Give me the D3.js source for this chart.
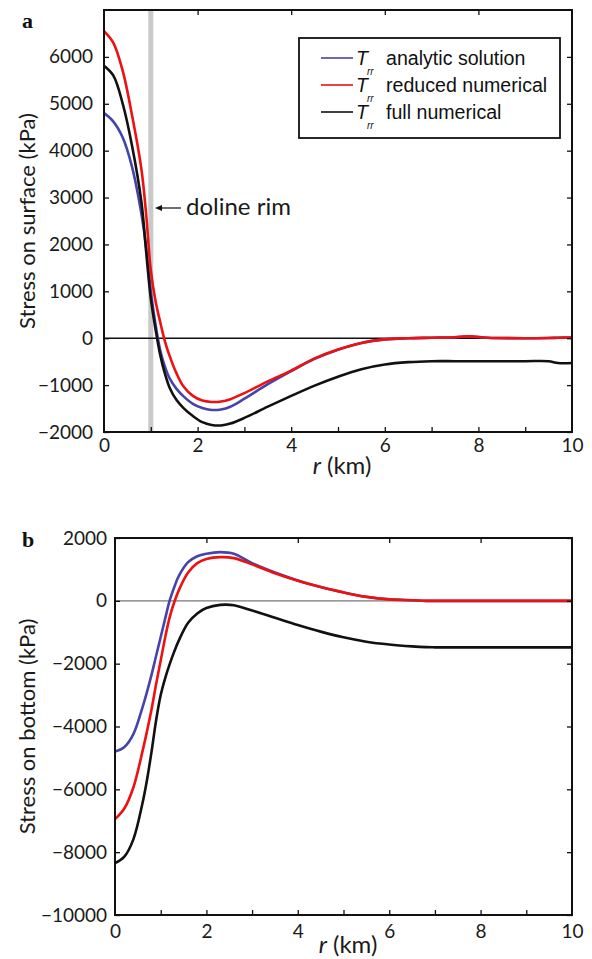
<!DOCTYPE html>
<html><head><meta charset="utf-8">
<script src="https://cdn.jsdelivr.net/npm/d3@7"></script>
<style>body{margin:0;background:#fff} svg{display:block}</style>
</head><body><svg id="c" width="592" height="959"></svg>
<script>
// ---------- data (r in km, stress in kPa) ----------
const rSurface = [0, 0.2, 0.4, 0.6, 0.8, 0.9, 1.0, 1.1, 1.2, 1.3, 1.4, 1.55, 1.7, 1.9, 2.1, 2.3, 2.5, 2.7, 3.0, 3.5, 4.0, 4.5, 5.0, 5.5, 6.0, 6.5, 7.0, 7.5, 7.8, 8.2, 9.0, 9.5, 9.7, 10.0];
const surfaceAnalytic = [4800, 4620, 4280, 3650, 2650, 1950, 1000, 300, -250, -600, -850, -1080, -1240, -1400, -1490, -1530, -1520, -1460, -1290, -980, -700, -440, -245, -100, -25, 0, 10, 20, 40, 10, 0, 5, 10, 15];
const surfaceReduced  = [6550, 6300, 5700, 4750, 3600, 2650, 1450, 800, 350, -60, -370, -750, -1030, -1230, -1330, -1360, -1350, -1300, -1170, -920, -690, -430, -240, -100, -25, 0, 10, 20, 40, 10, 0, 5, 10, 15];
const surfaceFull     = [5810, 5600, 5000, 4100, 2900, 1850, 850, 200, -350, -750, -1050, -1320, -1490, -1660, -1790, -1850, -1860, -1820, -1700, -1460, -1230, -1010, -820, -660, -560, -510, -490, -490, -490, -490, -490, -490, -530, -530];

const rBottom = [0, 0.2, 0.4, 0.6, 0.7, 0.8, 0.9, 1.0, 1.1, 1.2, 1.3, 1.4, 1.6, 1.8, 2.0, 2.3, 2.6, 3.0, 3.5, 4.0, 4.5, 5.0, 5.5, 6.0, 6.5, 6.8, 7.0, 8.0, 9.0, 10.0];
const bottomAnalytic = [-4800, -4660, -4250, -3400, -2900, -2350, -1750, -1150, -550, 30, 450, 800, 1230, 1420, 1500, 1550, 1500, 1200, 900, 650, 440, 270, 130, 50, 20, 0, 0, 0, 0, 0];
const bottomReduced  = [-6950, -6620, -5950, -4800, -4150, -3450, -2650, -1900, -1150, -500, -30, 350, 900, 1200, 1330, 1390, 1360, 1160, 880, 640, 440, 265, 125, 45, 20, 0, 0, 0, 0, 0];
const bottomFull     = [-8350, -8150, -7600, -6450, -5700, -4800, -3800, -3000, -2450, -2000, -1600, -1250, -700, -400, -230, -130, -140, -310, -540, -770, -980, -1160, -1300, -1390, -1450, -1475, -1480, -1480, -1480, -1480];

const xTicksLabeled = [0, 2, 4, 6, 8, 10];
const xTicksAll = [1, 2, 3, 4, 5, 6, 7, 8, 9];
const yTicksSurface = [-2000, -1000, 0, 1000, 2000, 3000, 4000, 5000, 6000];
const yTicksBottom = [-10000, -8000, -6000, -4000, -2000, 0, 2000];

const seriesNames = ["analytic solution", "reduced numerical", "full numerical"];
const seriesColors = ["#4444aa", "#ee1111", "#111111"];

// ---------- drawing ----------
const svg = d3.select("#c");
const tickFont = "Lato, 'Open Sans', sans-serif";

function panel(o) {
  const x = d3.scaleLinear().domain([0, 10]).range([o.x0, o.x1]);
  const y = d3.scaleLinear().domain(o.yDomain).range([o.y1, o.y0]);
  const g = svg.append("g");
  const clipId = "clip" + o.id;
  svg.append("clipPath").attr("id", clipId).append("rect")
    .attr("x", o.x0).attr("y", o.y0).attr("width", o.x1 - o.x0).attr("height", o.y1 - o.y0);

  if (o.rim) {
    g.append("rect").attr("x", x(1) - 2.5).attr("y", o.y0).attr("width", 5).attr("height", o.y1 - o.y0)
      .attr("fill", "#c9c9c9");
  }
  g.append("line").attr("x1", o.x0).attr("x2", o.x1).attr("y1", y(0)).attr("y2", y(0))
    .attr("stroke", o.zeroColor).attr("stroke-width", o.zeroWidth);

  const line = d3.line().x(d => x(d[0])).y(d => y(d[1])).curve(d3.curveCatmullRom.alpha(0.5));
  const order = [0, 2, 1];
  order.forEach(i => {
    const pts = o.r.map((rv, k) => [rv, o.series[i][k]]);
    g.append("path").attr("d", line(pts)).attr("fill", "none")
      .attr("stroke", seriesColors[i]).attr("stroke-width", 2.6)
      .attr("stroke-linejoin", "round").attr("clip-path", `url(#${clipId})`);
  });

  // ticks (inward)
  const styleAxis = sel => {
    sel.select(".domain").remove();
    sel.selectAll("line").attr("stroke", "#111").attr("stroke-width", 1.3);
    sel.selectAll("text").attr("font-family", tickFont).attr("font-size", 19).attr("fill", "#1a1a1a");
  };
  g.append("g").attr("transform", `translate(0,${o.y1})`)
    .call(d3.axisBottom(x).tickValues(xTicksAll).tickSizeInner(-5).tickSizeOuter(0).tickFormat(""))
    .call(styleAxis);
  g.append("g").attr("transform", `translate(0,${o.y1})`)
    .call(d3.axisBottom(x).tickValues(xTicksLabeled).tickSizeInner(0).tickSizeOuter(0).tickPadding(o.xPad))
    .call(styleAxis);
  g.append("g").attr("transform", `translate(0,${o.y0})`)
    .call(d3.axisTop(x).tickValues([2, 4, 6, 8]).tickSizeInner(-5).tickSizeOuter(0).tickFormat(""))
    .call(styleAxis);
  g.append("g").attr("transform", `translate(${o.x0},0)`)
    .call(d3.axisLeft(y).tickValues(o.yTicks).tickSizeInner(-5).tickSizeOuter(0).tickPadding(o.yPad).tickFormat(d3.format("d")))
    .call(styleAxis);
  g.append("g").attr("transform", `translate(${o.x1},0)`)
    .call(d3.axisRight(y).tickValues(o.yTicks).tickSizeInner(-5).tickSizeOuter(0).tickFormat(""))
    .call(styleAxis);

  // frame
  g.append("rect").attr("x", o.x0).attr("y", o.y0).attr("width", o.x1 - o.x0).attr("height", o.y1 - o.y0)
    .attr("fill", "none").attr("stroke", "#111").attr("stroke-width", 2);

  // axis titles
  g.append("text").attr("transform", `translate(${o.yLabelX},${(o.y0 + o.y1) / 2}) rotate(-90)`)
    .attr("text-anchor", "middle").attr("font-family", tickFont).attr("font-size", 22).attr("fill", "#1a1a1a")
    .text(o.yLabel);
  const xl = g.append("text").attr("x", o.xLabelX).attr("y", o.xLabelY).attr("text-anchor", "middle")
    .attr("font-family", tickFont).attr("font-size", 24).attr("fill", "#1a1a1a");
  xl.append("tspan").attr("font-style", "italic").text("r");
  xl.append("tspan").text(" (km)");

  // panel letter
  g.append("text").attr("x", 22).attr("y", o.letterY).attr("font-family", "'Liberation Serif', serif")
    .attr("font-weight", "bold").attr("font-size", 22).attr("fill", "#111").text(o.letter);
  return { x, y, g };
}

const a = panel({
  id: "a", x0: 104, x1: 572, y0: 10, y1: 432, yDomain: [-2000, 7000],
  r: rSurface, series: [surfaceAnalytic, surfaceReduced, surfaceFull],
  yTicks: yTicksSurface, rim: true, zeroColor: "#111", zeroWidth: 1.5,
  xPad: 7, yPad: 11, yLabel: "Stress on surface (kPa)", yLabelX: 35,
  xLabelX: 342, xLabelY: 474, letter: "a", letterY: 28
});

const b = panel({
  id: "b", x0: 115, x1: 572, y0: 538, y1: 915, yDomain: [-10000, 2000],
  r: rBottom, series: [bottomAnalytic, bottomReduced, bottomFull],
  yTicks: yTicksBottom, rim: false, zeroColor: "#777", zeroWidth: 1.2,
  xPad: 10, yPad: 8, yLabel: "Stress on bottom (kPa)", yLabelX: 35,
  xLabelX: 348, xLabelY: 953, letter: "b", letterY: 547
});

// doline rim annotation
const rimY = 208;
a.g.append("line").attr("x1", 181).attr("x2", 158).attr("y1", rimY).attr("y2", rimY)
  .attr("stroke", "#111").attr("stroke-width", 1.2);
a.g.append("path").attr("d", `M155,${rimY} l7,-3 l0,6 z`).attr("fill", "#111");
a.g.append("text").attr("x", 186).attr("y", rimY + 7).attr("font-family", tickFont).attr("font-size", 24)
  .attr("fill", "#1a1a1a").text("doline rim");

// legend
const lg = a.g.append("g");
lg.append("rect").attr("x", 299).attr("y", 38).attr("width", 261).attr("height", 100)
  .attr("fill", "#fff").attr("stroke", "#111").attr("stroke-width", 1.8);
seriesNames.forEach((name, i) => {
  const ly = 58 + i * 27;
  lg.append("line").attr("x1", 321).attr("x2", 353).attr("y1", ly).attr("y2", ly)
    .attr("stroke", seriesColors[i]).attr("stroke-width", 1.6);
  lg.append("text").attr("x", 356).attr("y", ly + 7).attr("font-family", "'Liberation Sans', Arial, sans-serif")
    .attr("font-style", "italic").attr("font-size", 19.6).attr("fill", "#111").text("T");
  lg.append("text").attr("x", 367).attr("y", ly + 17).attr("font-family", "'Liberation Sans', Arial, sans-serif")
    .attr("font-style", "italic").attr("font-size", 10).attr("fill", "#111").text("rr");
  lg.append("text").attr("x", 386).attr("y", ly + 7).attr("font-family", "'Liberation Sans', Arial, sans-serif")
    .attr("font-size", 19.6).attr("fill", "#111").text(name);
});
</script>
</body></html>
